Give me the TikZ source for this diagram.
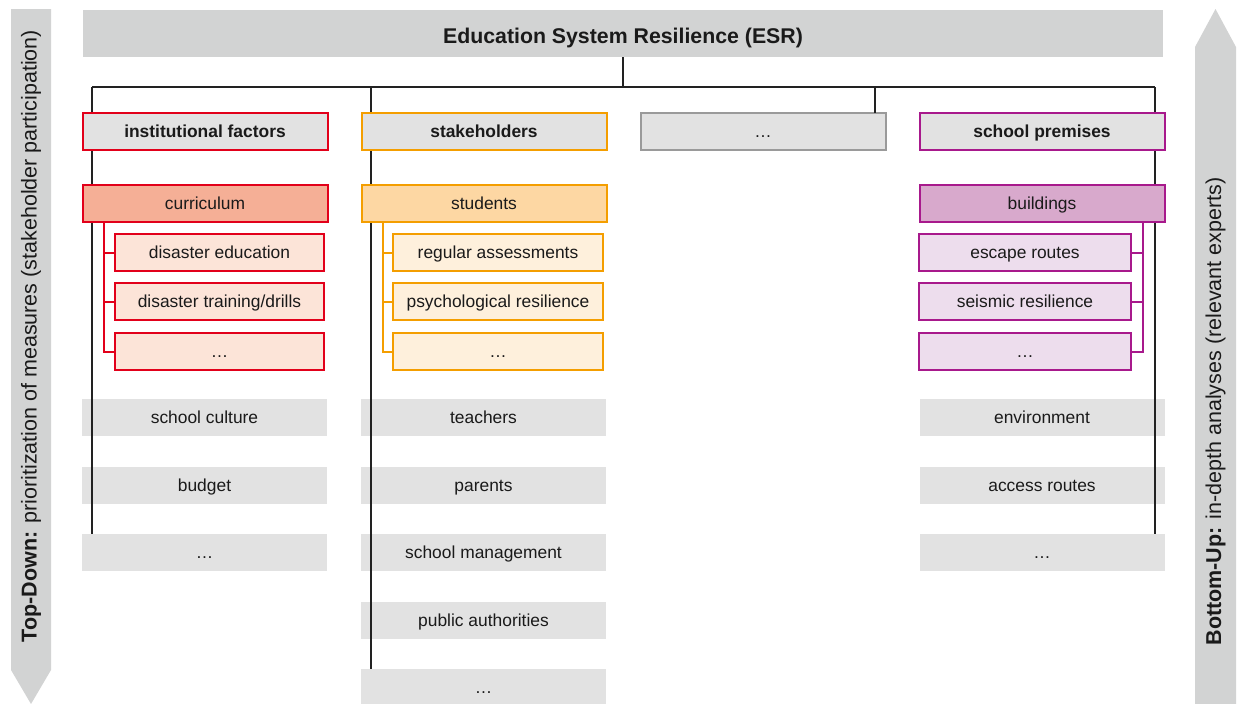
\documentclass[tikz,border=0pt]{standalone}
\usepackage{fontspec}
\setmainfont{Liberation Sans}
\usetikzlibrary{calc}
\definecolor{txt}{HTML}{1A1A1A}
\definecolor{arrowgray}{HTML}{D2D3D3}
\definecolor{boxgray}{HTML}{E2E2E2}
\definecolor{dotline}{HTML}{9A9A9A}
\definecolor{redline}{HTML}{E2001A}
\definecolor{redmid}{HTML}{F5AF96}
\definecolor{redlight}{HTML}{FCE4D8}
\definecolor{orline}{HTML}{F49E00}
\definecolor{ormid}{HTML}{FDD7A3}
\definecolor{orlight}{HTML}{FEF0DC}
\definecolor{mgline}{HTML}{A8198C}
\definecolor{mgmid}{HTML}{D8A9CC}
\definecolor{mglight}{HTML}{EDDDED}
\definecolor{spine}{HTML}{222222}
\tikzset{
  base/.style={inner sep=0pt, outer sep=0pt, text=txt, text height=12.5pt, text depth=1.5pt,
    font=\fontsize{17.4}{20}\selectfont},
  colbox/.style={base, minimum width=245pt, minimum height=37pt},
  topbox/.style={colbox, fill=boxgray, line width=2pt, font=\fontsize{17.4}{20}\selectfont\bfseries},
  midbox/.style={colbox, line width=2pt},
  subbox/.style={base, minimum height=37pt, line width=2pt},
  plainbox/.style={colbox, fill=boxgray},
  spineline/.style={spine, line width=1.4pt},
  brk/.style={line width=2pt},
  sidetext/.style={rotate=90, text=txt, font=\fontsize{21.5}{24}\selectfont},
}
\begin{document}
\begin{tikzpicture}[x=1pt,y=-1pt]
\useasboundingbox (0,0) rectangle (1237,704);

% side arrows
\fill[arrowgray] (11,9) -- (51,9) -- (51,670) -- (31,704) -- (11,670) -- cycle;
\fill[arrowgray] (1195,704) -- (1195,47) -- (1215.5,9) -- (1236,47) -- (1236,704) -- cycle;
\node[sidetext] (tdlabel) at (31,336)
  {\textbf{Top-Down:} prioritization of measures (stakeholder participation)};
\node[sidetext] (bulabel) at (1215.5,411.5)
  {\textbf{Bottom-Up:} in-depth analyses (relevant experts)};

% root
\node[fill=arrowgray, minimum width=1080pt, minimum height=47pt, inner sep=0pt, outer sep=0pt, text=txt,
  text height=19pt, text depth=0pt,
  font=\fontsize{21.3}{24}\selectfont\bfseries] (esr) at (623,33.5) {Education System Resilience (ESR)};

% spine coordinates
\coordinate (hb) at (623,87);
\coordinate (sA) at (92,87);
\coordinate (sB) at (371,87);
\coordinate (sC) at (875,87);
\coordinate (sD) at (1155,87);

% bottom boxes (first, so spines pass behind the boxes)
\node[plainbox] (ia) at (204.5,417.5) {school culture};
\node[plainbox] (ib) at (204.5,485.5) {budget};
\node[plainbox] (ic) at (204.5,552.5) {\dots};
\node[plainbox] (sa) at (483.5,417.5) {teachers};
\node[plainbox] (sb) at (483.5,485.5) {parents};
\node[plainbox] (sc) at (483.5,552.5) {school management};
\node[plainbox] (sd) at (483.5,620.5) {public authorities};
\node[plainbox] (se) at (483.5,687.5) {\dots};
\node[plainbox] (pa) at (1042,417.5) {environment};
\node[plainbox] (pb) at (1042,485.5) {access routes};
\node[plainbox] (pc) at (1042,552.5) {\dots};

% connectors
\draw[spineline] (esr.south) -- (hb);
\draw[spineline] (sA) -- (sD);
\draw[spineline] (sA) -- (sA |- ic.north);
\draw[spineline] (sB) -- (sB |- se.north);
\draw[spineline] (sD) -- (sD |- pc.north);

% first level
\node[topbox, draw=redline] (inst) at (205,131.5) {institutional factors};
\node[topbox, draw=orline] (stake) at (484,131.5) {stakeholders};
\node[topbox, draw=dotline, font=\fontsize{17.4}{20}\selectfont] (more) at (763,131.5) {\dots};
\node[topbox, draw=mgline] (prem) at (1042,131.5) {school premises};
\draw[spineline] (sC) -- (sC |- more.north);

% second level
\node[midbox, draw=redline, fill=redmid] (curr) at (205,203.5) {curriculum};
\node[midbox, draw=orline, fill=ormid] (stud) at (484,203.5) {students};
\node[midbox, draw=mgline, fill=mgmid] (bld) at (1042,203.5) {buildings};

% brackets
\draw[brk, redline] ($(curr.south west)+(21.5,0)$) |- (219.5,351.5);
\draw[brk, orline] ($(stud.south west)+(21.5,0)$) |- (498,351.5);
\draw[brk, mgline] ($(bld.south east)+(-21.5,0)$) |- (1025,351.5);

% third level
\node[subbox, minimum width=209pt, draw=redline, fill=redlight] (ca) at (219.5,252.5) {disaster education};
\node[subbox, minimum width=209pt, draw=redline, fill=redlight] (cb) at (219.5,301.5) {disaster training/drills};
\node[subbox, minimum width=209pt, draw=redline, fill=redlight] (cc) at (219.5,351.5) {\dots};
\node[subbox, minimum width=210pt, draw=orline, fill=orlight] (ua) at (498,252.5) {regular assessments};
\node[subbox, minimum width=210pt, draw=orline, fill=orlight] (ub) at (498,301.5) {psychological resilience};
\node[subbox, minimum width=210pt, draw=orline, fill=orlight] (uc) at (498,351.5) {\dots};
\node[subbox, minimum width=212pt, draw=mgline, fill=mglight] (ba) at (1025,252.5) {escape routes};
\node[subbox, minimum width=212pt, draw=mgline, fill=mglight] (bb) at (1025,301.5) {seismic resilience};
\node[subbox, minimum width=212pt, draw=mgline, fill=mglight] (bc) at (1025,351.5) {\dots};

% bracket stubs
\draw[brk, redline] ($(curr.south west)+(21.5,0)$) |- (ca.west);
\draw[brk, redline] ($(curr.south west)+(21.5,0)$) |- (cb.west);
\draw[brk, orline] ($(stud.south west)+(21.5,0)$) |- (ua.west);
\draw[brk, orline] ($(stud.south west)+(21.5,0)$) |- (ub.west);
\draw[brk, mgline] ($(bld.south east)+(-21.5,0)$) |- (ba.east);
\draw[brk, mgline] ($(bld.south east)+(-21.5,0)$) |- (bb.east);
\end{tikzpicture}
\end{document}
